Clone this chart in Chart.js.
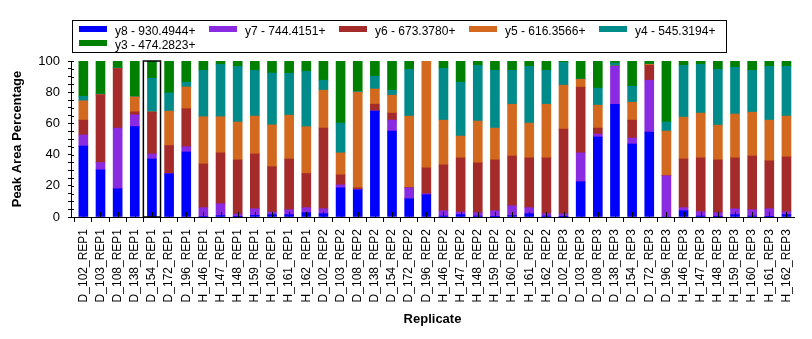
<!DOCTYPE html>
<html>
<head>
<meta charset="utf-8">
<script src="https://cdn.jsdelivr.net/npm/chart.js@4/dist/chart.umd.min.js"></script>
<style>
  body { margin: 0; background: #fff; }
  #wrap { position: relative; width: 812px; height: 339px; font-family: Arial, "Liberation Sans", sans-serif; }
  #legend { position: absolute; left: 72px; top: 20px; width: 653px; height: 31px; border: 1px solid #000; }
  .item { position: absolute; height: 14px; font-size: 12px; line-height: 14px; color: #000; white-space: nowrap; }
  .item span { display: inline-block; width: 28px; height: 6px; margin-right: 8px; vertical-align: 3px; }
</style>
</head>
<body>
<div id="wrap">
  <canvas id="chart" width="812" height="339"></canvas>
  <div id="legend"></div>
</div>
<script>
const replicates = [
  'D_102_REP1', 'D_103_REP1', 'D_108_REP1', 'D_138_REP1', 'D_154_REP1', 'D_172_REP1', 'D_196_REP1',
  'H_146_REP1', 'H_147_REP1', 'H_148_REP1', 'H_159_REP1', 'H_160_REP1', 'H_161_REP1', 'H_162_REP1',
  'D_102_REP2', 'D_103_REP2', 'D_108_REP2', 'D_138_REP2', 'D_154_REP2', 'D_172_REP2', 'D_196_REP2',
  'H_146_REP2', 'H_147_REP2', 'H_148_REP2', 'H_159_REP2', 'H_160_REP2', 'H_161_REP2', 'H_162_REP2',
  'D_102_REP3', 'D_103_REP3', 'D_108_REP3', 'D_138_REP3', 'D_154_REP3', 'D_172_REP3', 'D_196_REP3',
  'H_146_REP3', 'H_147_REP3', 'H_148_REP3', 'H_159_REP3', 'H_160_REP3', 'H_161_REP3', 'H_162_REP3'
];

// peak area percentages, bottom of the stack first
const y8 = [45.5, 30.2, 18.1, 57.9, 37.2, 27.7, 41.7, 0.3, 0.9, 0.2, 1.1, 1.5, 1.5, 2.8,
            2.1, 18.7, 17.4, 67.9, 55.1, 11.7, 14.3, 0.6, 1.5, 0.6, 0.2, 0.9, 2.1, 0.6,
            0.2, 22.6, 51.3, 72.3, 46.8, 54.5, 0, 4.0, 0.6, 0.1, 1.5, 0.6, 0.1, 1.5];
const y7 = [7.1, 4.7, 38.9, 7.6, 3.2, 0.2, 3.4, 5.7, 7.6, 1.7, 4.2, 1.7, 3.2, 3.2,
            3.2, 1.9, 0.2, 0.2, 7.0, 7.0, 0.6, 3.4, 1.7, 2.2, 3.8, 6.3, 3.9, 1.5,
            1.9, 18.5, 1.9, 24.3, 3.8, 33.2, 26.4, 2.0, 2.8, 2.7, 3.8, 4.1, 5.2, 1.9];
const y6 = [9.5, 43.4, 38.1, 1.9, 26.8, 17.9, 24.3, 28.0, 32.6, 34.7, 35.1, 29.1, 32.5, 21.9,
            51.7, 6.4, 1.1, 4.2, 4.5, 0.2, 16.6, 29.4, 34.7, 31.9, 32.6, 31.9, 31.9, 35.8,
            54.3, 42.1, 3.8, 0.1, 11.5, 9.5, 0.1, 31.2, 34.5, 33.8, 32.6, 34.4, 30.7, 35.1];
const y5 = [12.4, 0.2, 0.1, 9.6, 0.2, 22.1, 14.0, 30.3, 23.2, 24.3, 24.3, 26.8, 28.1, 30.0,
            24.3, 14.1, 61.3, 9.8, 11.5, 45.8, 68.5, 28.7, 14.0, 26.8, 20.4, 33.2, 22.3, 34.4,
            28.1, 5.1, 14.7, 0.1, 11.5, 0.7, 28.6, 26.8, 28.7, 22.3, 28.1, 28.1, 26.1, 26.2];
const y4 = [2.9, 0.4, 0.4, 0.2, 21.5, 11.7, 3.0, 29.7, 33.6, 35.7, 29.3, 33.2, 26.8, 35.5,
            6.4, 19.1, 0.6, 8.1, 3.2, 30.0, 0, 33.2, 34.5, 35.7, 37.0, 21.7, 36.4, 21.7,
            14.6, 0.2, 10.9, 1.9, 10.2, 0.1, 5.8, 33.2, 31.3, 35.8, 30.0, 26.8, 34.5, 31.9];
const y3 = [22.6, 21.1, 4.5, 22.8, 11.1, 20.4, 13.6, 6.0, 2.1, 3.4, 6.0, 7.7, 7.9, 6.6,
            12.3, 39.8, 19.4, 9.8, 18.7, 5.3, 0, 4.7, 13.6, 2.8, 6.0, 6.0, 3.4, 6.0,
            0.9, 11.5, 17.4, 1.5, 16.2, 2.0, 39.1, 2.8, 2.1, 5.3, 4.0, 6.0, 3.4, 3.4];

const seriesNames = ['y8 - 930.4944+', 'y7 - 744.4151+', 'y6 - 673.3780+', 'y5 - 616.3566+', 'y4 - 545.3194+', 'y3 - 474.2823+'];
const seriesValues = [y8, y7, y6, y5, y4, y3];
const seriesColors = ['#0000FF', '#8A2BE2', '#A52A2A', '#D2691E', '#008B8B', '#008000'];
const yTicks = [0, 20, 40, 60, 80, 100];
const selectedIndex = 4; // D_154_REP1 is boxed

const datasets = seriesValues.map((vals, s) => ({
  label: seriesNames[s],
  data: vals.map((v, i) => ({ x: i, y: v })),
  backgroundColor: seriesColors[s],
  borderWidth: 0,
  barThickness: 9
}));

// legend box like the original (two rows, five per row)
const legend = document.getElementById('legend');
seriesNames.forEach((name, s) => {
  const el = document.createElement('div');
  el.className = 'item';
  el.style.left = (6 + (s % 5) * 130) + 'px';
  el.style.top = (3 + Math.floor(s / 5) * 14) + 'px';
  el.innerHTML = '<span style="background:' + seriesColors[s] + '"></span>' + name;
  legend.appendChild(el);
});

// ticks that cross the axes, and the selection box
const extras = {
  id: 'extras',
  afterDraw(chart) {
    const ctx = chart.ctx;
    const xs = chart.scales.x, ys = chart.scales.y;
    ctx.save();
    ctx.strokeStyle = '#000';
    ctx.lineWidth = 1;
    ctx.beginPath();
    xs.ticks.forEach(t => {
      const px = Math.round(xs.getPixelForValue(t.value)) + 0.5;
      ctx.moveTo(px, ys.bottom - 5);
      ctx.lineTo(px, ys.bottom);
    });
    ys.ticks.forEach(t => {
      const py = Math.round(ys.getPixelForValue(t.value)) + 0.5;
      ctx.moveTo(xs.left, py);
      ctx.lineTo(xs.left + 3, py);
    });
    ctx.stroke();

    const cx = xs.getPixelForValue(selectedIndex);
    const half = (xs.getPixelForValue(1) - xs.getPixelForValue(0)) / 2;
    ctx.lineWidth = 1.5;
    ctx.strokeRect(cx - half, ys.getPixelForValue(100), half * 2, ys.getPixelForValue(0) - ys.getPixelForValue(100));
    ctx.restore();
  }
};

new Chart(document.getElementById('chart'), {
  type: 'bar',
  data: { datasets: datasets },
  options: {
    responsive: false,
    animation: false,
    layout: { padding: { top: 61, right: 18, left: 0, bottom: 0 } },
    plugins: { legend: { display: false }, tooltip: { enabled: false } },
    scales: {
      x: {
        type: 'linear',
        stacked: true,
        min: -0.72,
        max: 41.44,
        offset: false,
        afterBuildTicks: (s) => { s.ticks = replicates.map((r, i) => ({ value: i })); },
        afterFit: (s) => { s.height = 122; },
        grid: { display: true, drawOnChartArea: false, tickLength: 5, color: '#000' },
        border: { display: true, color: '#000', width: 1 },
        ticks: {
          autoSkip: false,
          maxRotation: 90,
          minRotation: 90,
          padding: 7,
          color: '#000',
          font: { family: 'Arial, "Liberation Sans"', size: 12 },
          callback: (v) => replicates[v]
        },
        title: {
          display: true,
          text: 'Replicate',
          color: '#000',
          font: { family: 'Arial, "Liberation Sans"', size: 13, weight: 'bold' },
          padding: { top: 0, bottom: 12 }
        }
      },
      y: {
        stacked: true,
        min: 0,
        max: 100,
        afterFit: (s) => { s.width = 71; },
        grid: { display: true, drawOnChartArea: false, tickLength: 3, color: '#000' },
        border: { display: true, color: '#000', width: 1 },
        ticks: {
          stepSize: 5,
          autoSkip: false,
          padding: 8,
          color: '#000',
          font: { family: 'Arial, "Liberation Sans"', size: 13 },
          callback: (v) => yTicks.includes(v) ? String(v) : ''
        },
        title: {
          display: true,
          text: 'Peak Area Percentage',
          color: '#000',
          font: { family: 'Arial, "Liberation Sans"', size: 13, weight: 'bold' },
          padding: { top: 10, bottom: 0 }
        }
      }
    }
  },
  plugins: [extras]
});
</script>
</body>
</html>
